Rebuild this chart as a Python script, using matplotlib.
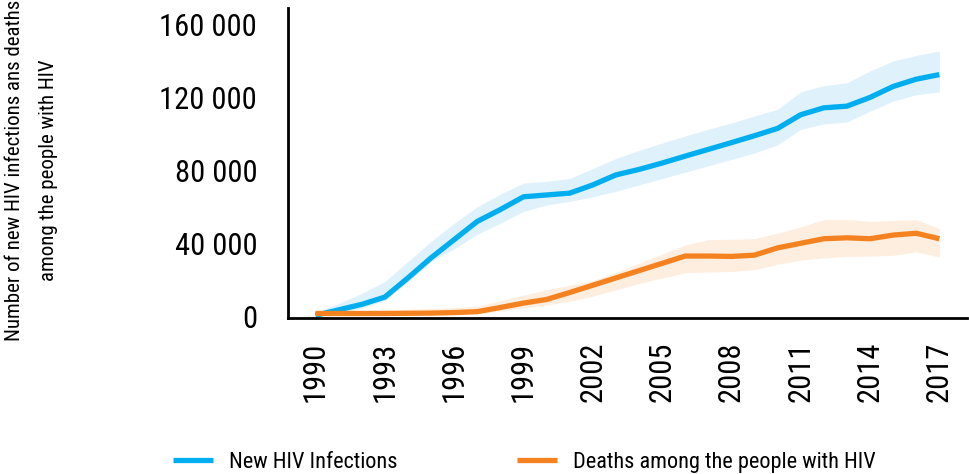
import matplotlib
matplotlib.use("Agg")
import matplotlib.pyplot as plt
from matplotlib.ticker import FuncFormatter

plt.rcParams["font.family"] = ["Roboto Condensed", "Archivo Narrow", "Open Sans", "DejaVu Sans"]

# ---------- data ----------
years = list(range(1990, 2018))

infections = [500, 3500, 6500, 10500, 21000, 32000, 42000, 52000, 58500, 65500,
              66500, 67500, 72000, 77500, 80500, 84000, 87800, 91500, 95200, 99000,
              103000, 110500, 114300, 115200, 120000, 126000, 130000, 132500]
infections_hi = [2000, 7000, 12500, 19000, 30000, 41000, 51000, 60000, 67000, 73000,
                 74000, 75500, 81000, 86500, 91000, 95000, 98800, 102500, 106000, 109800,
                 113500, 123000, 126500, 128000, 134500, 140000, 143000, 145500]
infections_lo = [0, 1500, 4500, 8500, 19000, 30000, 37000, 45000, 51000, 57500,
                 61000, 63000, 65500, 68500, 72000, 75500, 79000, 82500, 86000, 89500,
                 94000, 102500, 105500, 106500, 112500, 118000, 121500, 123000]

deaths = [1500, 1500, 1500, 1500, 1600, 1700, 2000, 2500, 4800, 7200,
          9200, 13000, 17000, 21000, 25000, 29000, 33000, 33000, 32800, 33500,
          37500, 40000, 42500, 43000, 42500, 44500, 45500, 42500]
deaths_hi = [3000, 3000, 3200, 3500, 3800, 4200, 4800, 5500, 8500, 11500,
             14500, 17000, 19500, 24000, 29000, 34000, 39000, 42000, 42200, 42600,
             45500, 49000, 53000, 53000, 52000, 52500, 53000, 48000]
deaths_lo = [500, 800, 900, 1000, 1000, 1100, 1200, 1500, 3000, 4600,
             6200, 8200, 11000, 14500, 18000, 21000, 23800, 24300, 24500, 25500,
             28500, 30800, 32000, 32800, 33000, 33400, 35300, 32500]

x_ticks = list(range(1990, 2018, 3))
y_ticks = [0, 40000, 80000, 120000, 160000]

BLUE = "#00aeef"
ORANGE = "#f58220"

# ---------- plot ----------
fig = plt.figure(figsize=(9.69, 4.74), dpi=100)
ax = fig.add_axes([0.297, 0.329, 0.701, 0.654])

ax.fill_between(years, infections_lo, infections_hi, color="#dff1fb", lw=0)
ax.fill_between(years, deaths_lo, deaths_hi, color="#fdeedf", lw=0)
ax.plot(years, infections, color=BLUE, lw=3.8, label="New HIV Infections", solid_capstyle="butt")
ax.plot(years, deaths, color=ORANGE, lw=3.8, label="Deaths among the people with HIV",
        solid_capstyle="butt")

ax.set_xlim(1988.8, 2018.2)
ax.set_ylim(-1000, 169000)
ax.set_xticks(x_ticks)
ax.set_yticks(y_ticks)
ax.yaxis.set_major_formatter(FuncFormatter(lambda v, p: f"{int(v):,}".replace(",", " ")))
ax.tick_params(axis="both", length=0, labelsize=22, colors="black")
ax.tick_params(axis="x", labelrotation=90, pad=17)
ax.tick_params(axis="y", pad=22)

for s in ["top", "right"]:
    ax.spines[s].set_visible(False)
for s in ["left", "bottom"]:
    ax.spines[s].set_linewidth(2)
    ax.spines[s].set_color("black")

fig.text(0.032, 0.64, "Number of new HIV infections ans deaths\namong the people with HIV",
         rotation=90, ha="center", va="center", fontsize=15, multialignment="center",
         linespacing=2.0)

fig.legend(loc="center", bbox_to_anchor=(0.541, 0.025), ncol=2, frameon=False,
           fontsize=16, handlelength=1.8, handletextpad=0.7, columnspacing=5.4)

fig.savefig("out.png", dpi=100)
